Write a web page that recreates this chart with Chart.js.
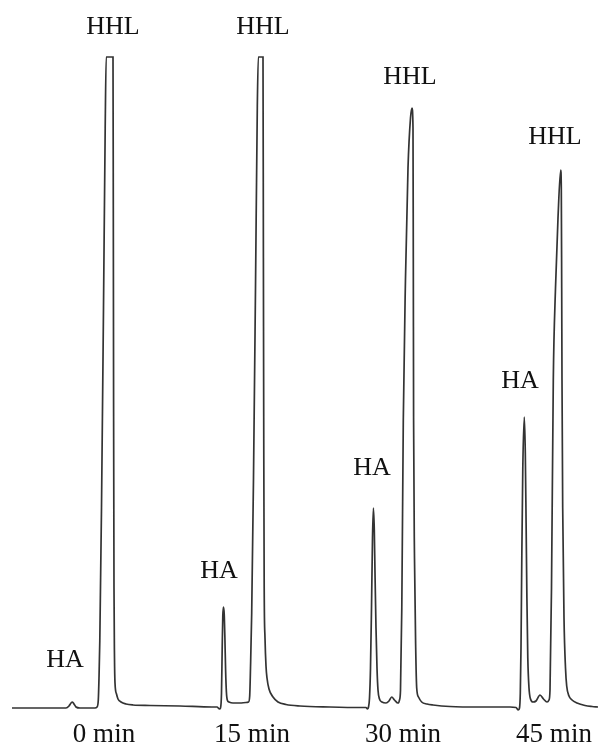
<!DOCTYPE html>
<html>
<head>
<meta charset="utf-8">
<script src="https://cdn.jsdelivr.net/npm/chart.js@4.4.1/dist/chart.umd.min.js"></script>
<style>
  html, body { margin: 0; padding: 0; background: #fff; }
  #wrap { width: 598px; height: 749px; }
</style>
</head>
<body>
<div id="wrap"><canvas id="chromatogram" width="598" height="749"></canvas></div>
<script>
// Trace: time position (arbitrary units) and detector signal.
const traceTime = [
  12, 30, 50, 66, 69, 71, 72.5, 74, 76, 80, 95, 97, 98.3, 99, 99.8, 101.5, 103.5, 105.2, 106.2,
  113, 113.3, 113.6, 114, 114.5, 115, 116.5, 118, 121, 126, 133, 150, 180, 212,
  217, 219.5, 220.5, 221.5, 222.2, 222.8, 223.5, 224.2, 224.9, 225.6, 226.4, 227.3, 229, 233, 240, 246,
  248.5, 249.7, 250.5, 251.7, 253.5, 255.5, 257.3, 258.3, 263, 263.4, 263.8, 264.2, 265, 266, 267,
  269, 273, 278, 286, 300, 330, 360,
  366, 367.5, 368.5, 369.5, 370.5, 371.5, 372.5, 373.4, 374.3, 375, 376, 377, 378, 379.5, 382, 386,
  389, 391.7, 394.5, 398, 399.5, 400.5, 401.8, 403.3, 405.5, 408, 410.5, 412, 413, 413.3, 413.6,
  414.5, 415.7, 416.7, 418.5, 421.7, 427, 433, 450, 480, 510,
  516, 518.3, 519.5, 520.3, 521, 521.8, 522.8, 524.3, 525.3, 526.1, 526.9, 527.8, 529, 530.5, 533,
  536, 540, 543.5, 547, 549, 550, 551.5, 553.3, 555.5, 558, 560.7, 561.3, 561.7, 562, 562.7, 564, 565.5,
  566.7, 569, 572, 577, 585, 592, 598
];
const traceSignal = [
  0, 0, 0, 0, 2, 5, 6, 4, 1, 0, 0, 1, 8, 30, 67, 200, 400, 580, 651,
  651, 500, 300, 120, 50, 25, 14, 9, 6, 4, 3, 2.5, 2, 1,
  1, -1, 0, 15, 60, 92, 101, 94, 70, 38, 16, 8, 6, 5, 5, 5.5,
  6, 12, 40, 95, 230, 420, 600, 651, 651, 450, 250, 120, 70, 42, 30,
  19, 11, 6, 3.5, 2, 1, 0.5,
  0.5, -1, 1, 10, 40, 100, 170, 200, 178, 135, 80, 40, 18, 9, 6, 5,
  7, 11, 8, 5, 8, 18, 100, 288, 430, 540, 590, 600, 580, 450, 288,
  150, 60, 20, 11, 6, 4, 3, 1.5, 1, 1,
  0.5, -2, 0, 15, 60, 150, 240, 291, 255, 185, 110, 50, 20, 9, 6,
  7, 13, 9, 6, 8, 18, 120, 328, 420, 490, 538, 520, 420, 328, 200, 90, 40,
  22, 12, 8, 5, 2.5, 1.5, 1
];

// Sampling times shown under the trace.
const sampleTicks = [104, 252, 403, 554];
const sampleLabels = ['0 min', '15 min', '30 min', '45 min'];

// Peak names and where they sit (data coordinates).
const peakNames = ['HHL', 'HHL', 'HHL', 'HHL', 'HA', 'HA', 'HA', 'HA'];
const peakNameTime = [113, 263, 410, 555, 65, 219, 372, 520];
const peakNameSignal = [681, 681, 631, 571, 48, 137, 240, 327];

const serif = '"Liberation Serif", "DejaVu Serif", serif';

const tracePoints = traceTime.map((t, i) => ({ x: t, y: traceSignal[i] }));

const peakNamePlugin = {
  id: 'peakNames',
  afterDatasetsDraw(chart) {
    const { ctx, scales } = chart;
    ctx.save();
    ctx.fillStyle = '#111';
    ctx.font = '26px ' + serif;
    ctx.textAlign = 'center';
    ctx.textBaseline = 'middle';
    peakNames.forEach((name, i) => {
      ctx.fillText(name, scales.x.getPixelForValue(peakNameTime[i]), scales.y.getPixelForValue(peakNameSignal[i]));
    });
    ctx.restore();
  }
};

const whiteBackground = {
  id: 'whiteBackground',
  beforeDraw(chart) {
    const { ctx } = chart;
    ctx.save();
    ctx.fillStyle = '#fff';
    ctx.fillRect(0, 0, chart.width, chart.height);
    ctx.restore();
  }
};

new Chart(document.getElementById('chromatogram'), {
  type: 'line',
  data: {
    datasets: [{
      data: tracePoints,
      borderColor: '#333',
      borderWidth: 1.7,
      pointRadius: 0,
      cubicInterpolationMode: 'monotone',
      fill: false,
      clip: false
    }]
  },
  options: {
    responsive: false,
    animation: false,
    devicePixelRatio: 1,
    layout: { padding: 0 },
    plugins: {
      legend: { display: false },
      tooltip: { enabled: false }
    },
    scales: {
      x: {
        type: 'linear',
        min: 0,
        max: 598,
        border: { display: false },
        grid: { display: false, drawTicks: false },
        afterBuildTicks(scale) {
          scale.ticks = sampleTicks.map(v => ({ value: v }));
        },
        afterFit(scale) {
          // keep the time axis spanning the whole canvas width
          scale.height = 40;
          scale.paddingLeft = 0;
          scale.paddingRight = 0;
        },
        ticks: {
          autoSkip: false,
          maxRotation: 0,
          padding: 10,
          color: '#111',
          font: { family: serif, size: 27 },
          callback(value) {
            const i = sampleTicks.indexOf(value);
            return i >= 0 ? sampleLabels[i] : '';
          }
        }
      },
      y: {
        display: false,
        min: -1,
        max: 708
      }
    }
  },
  plugins: [whiteBackground, peakNamePlugin]
});
</script>
</body>
</html>
